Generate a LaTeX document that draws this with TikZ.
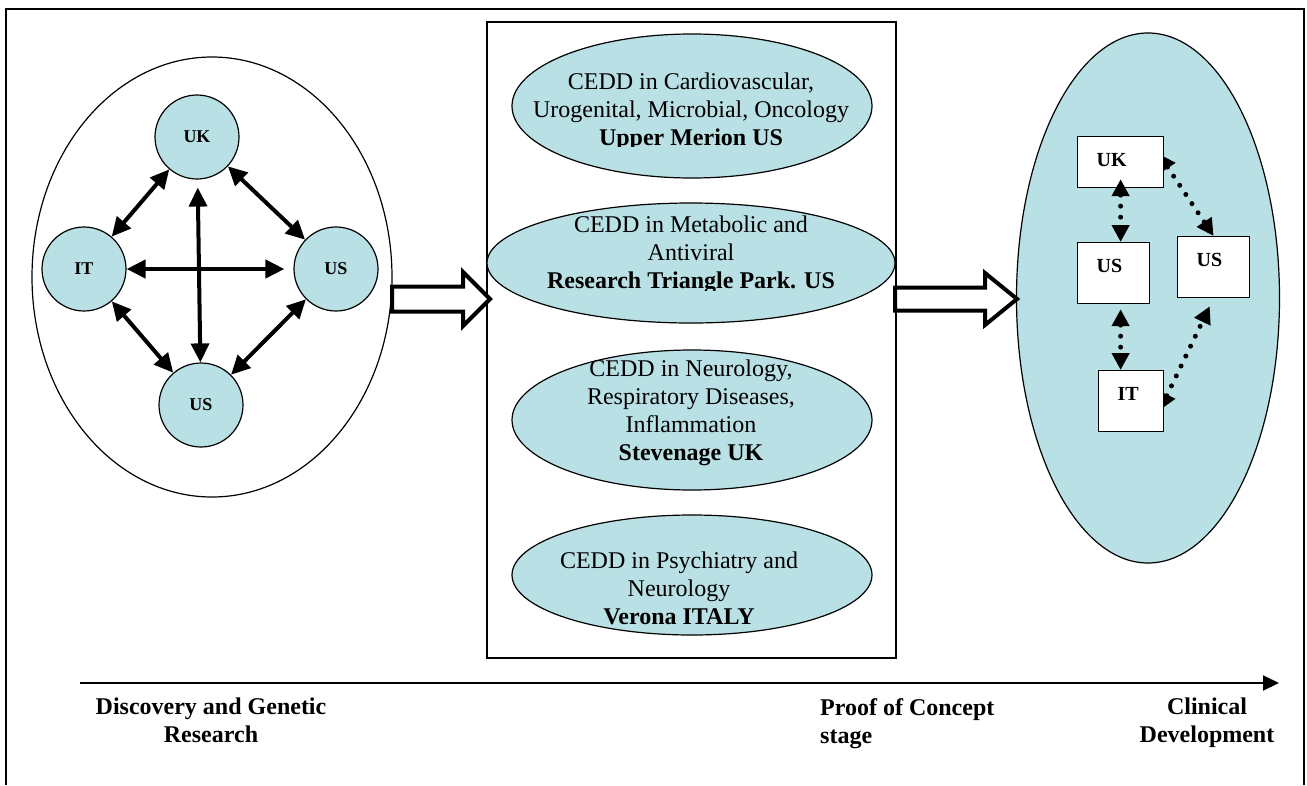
\documentclass[tikz,border=0pt]{standalone}
\usepackage{fontspec}
\setmainfont{Liberation Serif}
\usetikzlibrary{arrows.meta,shapes.geometric,positioning,calc,backgrounds}
\definecolor{paleteal}{RGB}{185,224,228}

\begin{document}
\begin{tikzpicture}[x=1pt, y=-1pt,
        hub/.style={circle, draw, line width=1.2pt, fill=paleteal, minimum size=84pt, inner sep=0pt,
                    font=\bfseries\fontsize{18}{21}\selectfont},
        link/.style={{Triangle[length=19pt,width=18pt]}-{Triangle[length=19pt,width=18pt]}, line width=4pt},
        cedd/.style={ellipse, draw, line width=1.2pt, fill=paleteal, inner sep=0pt},
        ceddtext/.style={anchor=north, align=center, inner sep=0pt, font=\fontsize{24}{28}\selectfont},
        site/.style={rectangle, draw, line width=1.2pt, fill=white, anchor=north west, inner xsep=19pt,
                     inner ysep=0pt, text height=30pt, align=left, font=\bfseries\fontsize{20}{24}\selectfont},
        dotlink/.style={{Triangle[length=17pt,width=17pt]}-{Triangle[length=17pt,width=17pt]},
                        line width=5pt, line cap=round, dash pattern=on 0pt off 11pt},
        stage/.style={anchor=north, align=center, inner sep=0pt, font=\bfseries\fontsize{24}{28}\selectfont},
        hollow/.style={draw, line width=4pt, fill=white, line join=miter}
      ]
        \useasboundingbox (0,0) rectangle (1307,785);
        \draw[line width=1.2pt] (6,785) -- (6,9) -- (1304,9) -- (1304,785);

        % discovery: research sites
        \node[draw, ellipse, line width=1.2pt, minimum width=360pt, minimum height=440pt] (disc) at (212,277) {};
        \node[hub] (uk) at (197,137) {UK};
        \node[hub] (it) at (84,269) {IT};
        \node[hub] (usr) at (336,269) {US};
        \node[hub] (usb) at (201,405) {US};

        \draw[link, shorten <=8pt] (uk) -- (usb);
        \draw[link, shorten >=9pt] (it) -- (usr);
        \draw[link] (uk) -- (it);
        \draw[link] (uk) -- (usr);
        \draw[link] (it) -- (usb);
        \draw[link] (usr) -- (usb);

        % proof of concept: CEDDs
        \node[draw, line width=1.5pt, minimum width=409pt, minimum height=636pt, inner sep=0pt] (poc) at (691.5,340) {};
        \node[cedd, minimum width=360pt, minimum height=144pt] (cardio) at (692,106) {};
        \node[cedd, minimum width=408pt, minimum height=120pt] (metab) at (691,263) {};
        \node[cedd, minimum width=360pt, minimum height=140pt] (neuro) at (692,420) {};
        \node[cedd, minimum width=360pt, minimum height=120pt] (psych) at (692,575) {};

        \begin{scope}
          \clip (487,22) rectangle (896,146);
          \node[ceddtext] (cardiotxt) at (691,73) {CEDD in Cardiovascular,\\Urogenital, Microbial, Oncology\\\textbf{Upper Merion US}};
        \end{scope}
        \begin{scope}
          \clip (487,180) rectangle (896,290);
          \node[ceddtext] (metabtxt) at (691,216) {CEDD in Metabolic and\\Antiviral\\\textbf{Research Triangle Park. US}};
        \end{scope}
        \node[ceddtext] (neurotxt) at (691,360) {CEDD in Neurology,\\Respiratory Diseases,\\Inflammation\\\textbf{Stevenage UK}};
        \begin{scope}
          \clip (487,500) rectangle (896,627);
          \node[ceddtext] (psychtxt) at (679,552) {CEDD in Psychiatry and\\Neurology\\\textbf{Verona ITALY}};
        \end{scope}

        % hollow block arrows
        \draw[hollow] (392,286.5) -- (463,286.5) -- (463,272) -- (490,299) -- (463,326) -- (463,311.5) -- (392,311.5) -- cycle;
        \draw[hollow] (895,287.5) -- (985,287.5) -- (985,273) -- (1017,299) -- (985,325) -- (985,310.5) -- (895,310.5) -- cycle;

        % clinical development
        \begin{pgfonlayer}{background}
          \node[cedd, minimum width=263pt, minimum height=530pt] (clin) at (1148,298) {};
        \end{pgfonlayer}
        \node[site, text width=48pt, text depth=21pt] (ukbox) at (1077,136) {UK};
        \node[site, text width=34pt, text depth=31pt] (usbox) at (1077,242) {US};
        \node[site, text width=34pt, text depth=31pt] (usbox2) at (1177,236) {US};
        \node[site, text width=27pt, text depth=31pt] (itbox) at (1098,370) {IT};

        \draw[dotlink] ($(ukbox.south)+(0,-9)$) -- (ukbox.south |- usbox.north);
        \draw[dotlink] ($(usbox.south -| ukbox.south)+(0,5)$) -- (itbox.north -| ukbox.south);
        \begin{pgfonlayer}{background}
          \draw[dotlink, shorten <=-10pt] (ukbox.east) -- (usbox2.north);
          \draw[dotlink, shorten <=-10pt, shorten >=9pt] (itbox.east) -- (usbox2.south);
        \end{pgfonlayer}

        % timeline
        \coordinate (axis0) at (80,683);
        \coordinate (axis1) at (1279,683);
        \draw[-{Triangle[length=16pt,width=15pt]}, line width=2pt] (axis0) -- (axis1);
        \node[stage] (disclbl) at (211,698) {Discovery and Genetic\\Research};
        \node[stage, anchor=north west, align=left] (poclbl) at (820,698) {Proof of Concept\\stage};
        \node[stage] (clinlbl) at (1207,698) {Clinical\\Development};
      \end{tikzpicture}
\end{document}
